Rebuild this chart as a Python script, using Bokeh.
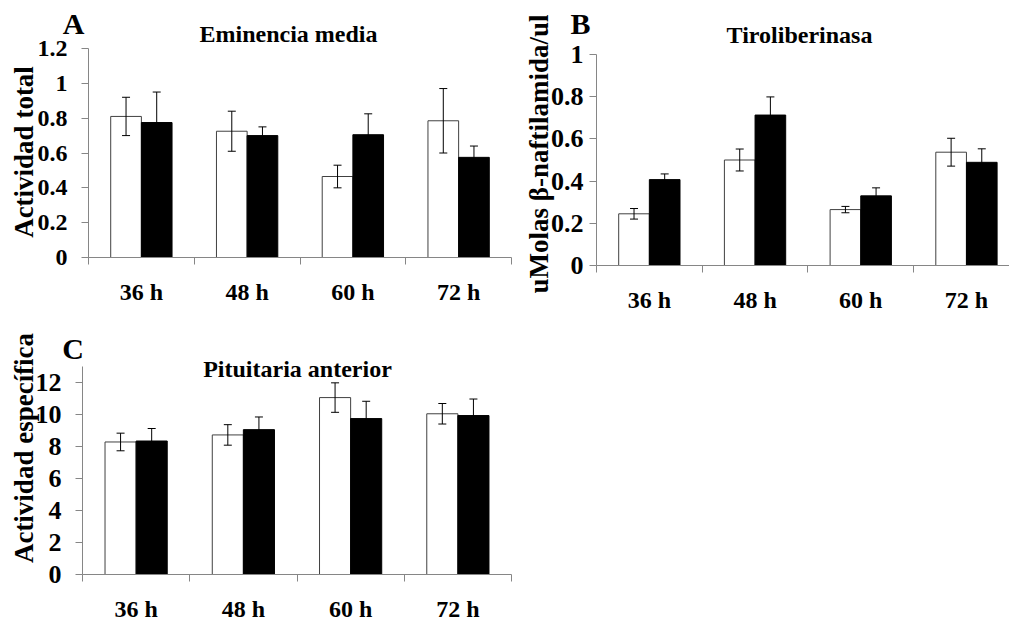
from math import pi

from bokeh.embed import file_html
from bokeh.layouts import column, row
from bokeh.models import (ColumnDataSource, FixedTicker, Label, Range1d,
                          TeeHead, Whisker)
from bokeh.plotting import figure
from bokeh.resources import INLINE

# ---------------- data ----------------
categories = ["36 h", "48 h", "60 h", "72 h"]

# Panel A - Eminencia media (Actividad total)
a_white = [0.81, 0.725, 0.465, 0.785]
a_white_err = [0.11, 0.115, 0.065, 0.185]
a_black = [0.775, 0.70, 0.705, 0.575]
a_black_err = [0.175, 0.05, 0.12, 0.065]
a_yticks = [0, 0.2, 0.4, 0.6, 0.8, 1.0, 1.2]
a_ylabels = ["0", "0.2", "0.4", "0.6", "0.8", "1", "1.2"]

# Panel B - Tiroliberinasa (uMolas beta-naftilamida/ul)
b_white = [0.245, 0.50, 0.265, 0.537]
b_white_err = [0.025, 0.052, 0.015, 0.066]
b_black = [0.407, 0.713, 0.33, 0.489]
b_black_err = [0.027, 0.086, 0.038, 0.064]
b_yticks = [0, 0.2, 0.4, 0.6, 0.8, 1.0]
b_ylabels = ["0", "0.2", "0.4", "0.6", "0.8", "1"]

# Panel C - Pituitaria anterior (Actividad especifica)
c_white = [8.27, 8.71, 11.04, 10.03]
c_white_err = [0.55, 0.64, 0.92, 0.64]
c_black = [8.33, 9.04, 9.73, 9.92]
c_black_err = [0.78, 0.79, 1.08, 1.03]
c_yticks = [0, 2, 4, 6, 8, 10, 12]
c_ylabels = ["0", "2", "4", "6", "8", "10", "12"]

FONT = "Liberation Serif, Times New Roman, serif"
GRAY = "#868686"
BAR_W = 0.29


def panel(fw, fh, ox, oy, px_x, px_y, y_top, yticks, ylabels,
          white, white_err, black, black_err,
          letter, title, ytitle, letter_pos, title_pos, ytitle_pos,
          tick_size, ytick_standoff, xlab_standoff):
    """ox, oy: pixel position of the data origin inside the figure;
    px_x, px_y: pixels per data unit."""
    x_range = Range1d(-ox / px_x, (fw - ox) / px_x)
    y_range = Range1d(-(fh - oy) / px_y, oy / px_y)
    p = figure(width=fw, height=fh, output_backend="svg", toolbar_location=None,
               x_range=x_range, y_range=y_range, min_border=0,
               min_border_left=0, min_border_right=0,
               min_border_top=0, min_border_bottom=0)
    p.outline_line_color = None
    p.xgrid.grid_line_color = None
    p.ygrid.grid_line_color = None
    p.background_fill_color = "white"
    p.border_fill_color = "white"

    n = len(categories)
    centers = [i + 0.5 for i in range(n)]
    xw = [c - BAR_W / 2 for c in centers]
    xb = [c + BAR_W / 2 for c in centers]

    src_w = ColumnDataSource(dict(x=xw, top=white,
                                  upper=[v + e for v, e in zip(white, white_err)],
                                  lower=[v - e for v, e in zip(white, white_err)]))
    src_b = ColumnDataSource(dict(x=xb, top=black,
                                  upper=[v + e for v, e in zip(black, black_err)],
                                  lower=[v - e for v, e in zip(black, black_err)]))

    p.vbar(x="x", top="top", bottom=0, width=BAR_W, source=src_w,
           fill_color="white", line_color="#404040", line_width=1)
    p.vbar(x="x", top="top", bottom=0, width=BAR_W, source=src_b,
           fill_color="black", line_color="black", line_width=1)

    for src in (src_w, src_b):
        wk = Whisker(base="x", upper="upper", lower="lower", source=src,
                     dimension="height", line_color="black", line_width=1,
                     upper_head=TeeHead(size=8, line_color="black", line_width=1),
                     lower_head=TeeHead(size=8, line_color="black", line_width=1))
        wk.level = "overlay"
        p.add_layout(wk)

    # x axis: boundary ticks + category labels, drawn at y = 0
    xa = p.xaxis[0]
    xa.fixed_location = 0
    xa.bounds = (0, n)
    xa.ticker = FixedTicker(ticks=centers, minor_ticks=list(range(n + 1)))
    xa.major_label_overrides = {c: lab for c, lab in zip(centers, categories)}
    xa.major_tick_line_color = None
    xa.major_tick_out = 0
    xa.major_tick_in = 0
    xa.minor_tick_line_color = GRAY
    xa.minor_tick_out = 7
    xa.minor_tick_in = 0
    xa.axis_line_color = GRAY
    xa.major_label_text_font = FONT
    xa.major_label_text_font_style = "bold"
    xa.major_label_text_font_size = "24px"
    xa.major_label_text_color = "black"
    xa.major_label_standoff = xlab_standoff

    # y axis drawn at x = 0
    ya = p.yaxis[0]
    ya.fixed_location = 0
    ya.bounds = (0, y_top)
    ya.ticker = FixedTicker(ticks=yticks)
    ya.major_label_overrides = {t: lab for t, lab in zip(yticks, ylabels)}
    ya.major_tick_out = 7
    ya.major_tick_in = 0
    ya.minor_tick_line_color = None
    ya.major_tick_line_color = GRAY
    ya.axis_line_color = GRAY
    ya.major_label_text_font = FONT
    ya.major_label_text_font_style = "bold"
    ya.major_label_text_font_size = tick_size
    ya.major_label_text_color = "black"
    ya.major_label_standoff = ytick_standoff

    def lab(text, pos, size, angle=0.0):
        p.add_layout(Label(x=0, y=0, x_units="data", y_units="data",
                           x_offset=pos[0], y_offset=pos[1], text=text,
                           text_font=FONT, text_font_style="bold",
                           text_font_size=size, text_color="black",
                           text_align="center", text_baseline="middle",
                           angle=angle))

    lab(letter, letter_pos, "30px")
    lab(title, title_pos, "24px")
    lab(ytitle, ytitle_pos, "27px", pi / 2)
    return p


ROW1_H = 312

pA = panel(515, ROW1_H, 88, 257, 423 / 4, 209 / 1.2, 1.2, a_yticks, a_ylabels,
           a_white, a_white_err, a_black, a_black_err,
           "A", "Eminencia media", "Actividad total",
           (-15, 234), (200, 224), (-65, 105.5),
           "24px", 14, 14)

pB = panel(494, ROW1_H, 81, 265, 105.7, 211.0, 1.0, b_yticks, b_ylabels,
           b_white, b_white_err, b_black, b_black_err,
           "B", "Tiroliberinasa", "uMolas β-naftilamida/ul",
           (-16, 242.5), (203, 230.5), (-58, 111.5),
           "26px", 6, 14)

pC = panel(515, 624 - ROW1_H, 82, 574 - ROW1_H, 429 / 4, 192.3 / 12, 13, c_yticks, c_ylabels,
           c_white, c_white_err, c_black, c_black_err,
           "C", "Pituitaria anterior", "Actividad específica",
           (-9.5, 226), (215, 206), (-59, 126.5),
           "26px", 14, 14)

layout = column(row(pA, pB), pC)
layout.spacing = 0

with open("out.html", "w") as f:
    f.write(file_html(layout, INLINE))
